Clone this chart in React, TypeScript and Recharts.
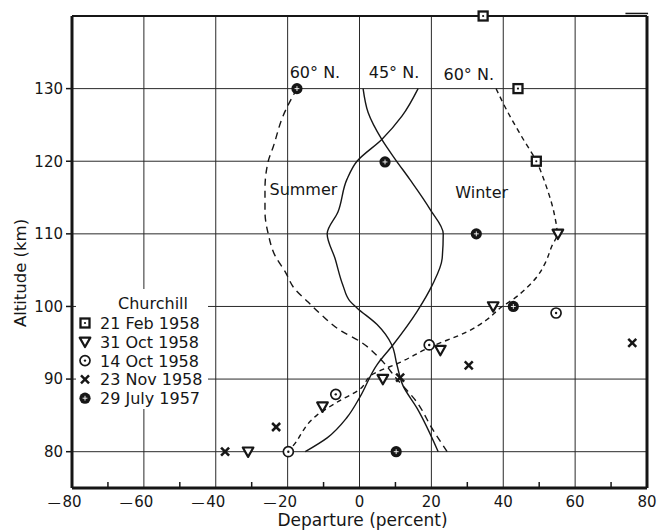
import React from "react";
import { ScatterChart, Scatter, XAxis, YAxis, ReferenceLine, ReferenceDot } from "recharts";

const INK = "#161616";
const FONT = '"DejaVu Sans", sans-serif';

// model profiles, [departure %, altitude km], top to bottom
const summer45 = [
  [16.3, 130], [11.8, 126.2], [6.2, 123], [-0.7, 120], [-3.5, 117.5], [-6, 113], [-9, 110],
  [-6.8, 106.6], [-4.6, 102.9], [-2.6, 100.7], [-0.7, 99.8], [4.9, 97.5], [9, 94.7],
  [10.4, 92], [12.1, 89.1], [16, 86], [21.9, 80],
];
const winter45 = [
  [1, 130], [2.4, 126.7], [6.2, 123], [9.9, 120.3], [14, 117.5], [19.6, 113.4], [23.3, 110],
  [23, 106.6], [20.2, 102.9], [16, 99.3], [9.3, 94.7], [4.9, 92], [0.1, 87.5], [-3.5, 84.7],
  [-9, 81.9], [-15.1, 80],
];
const summer60 = [
  [-17.4, 130], [-21.3, 126.2], [-24, 122], [-25.4, 120], [-26.3, 116.2], [-26.3, 113],
  [-25.4, 110], [-23.5, 107], [-20.7, 104.8], [-18, 102.4], [-14.3, 100.6], [-10.5, 98.8],
  [-5, 96.6], [0.1, 95.2], [5.7, 92.8], [10.4, 90], [16, 86.8], [20.2, 83.2], [24.4, 80],
];
const winter60 = [
  [38, 130], [41, 127], [45, 123.5], [49.2, 120], [52, 116.5], [54.3, 112.5], [55, 110],
  [53.5, 108.3], [51.7, 106], [49.4, 104.1], [46.6, 102.6], [42.8, 101], [39.7, 100],
  [35.5, 98.2], [29.9, 96.5], [19.6, 94.4], [11.3, 92.3], [3.8, 90.7], [0.1, 88.6],
  [-6.3, 86.8], [-11.9, 85], [-18.5, 80.8], [-19.9, 80],
];

// Churchill rocket soundings
const feb1958 = [[34.4, 140], [44.1, 130], [49.2, 120]];
const oct31 = [[55.2, 110], [37.2, 100], [22.5, 94], [6.5, 90], [-10.3, 86.2], [-31, 80]];
const oct14 = [[54.7, 99.1], [19.4, 94.7], [-6.6, 87.9], [-19.8, 80]];
const nov23 = [[75.9, 95], [30.4, 91.9], [11.3, 90.2], [-23.2, 83.4], [-37.4, 80]];
const jul1957 = [[-17.4, 130], [7.1, 119.9], [32.5, 110], [42.8, 100], [10.2, 80]];

const xTicks = [-80, -70, -60, -50, -40, -30, -20, -10, 0, 10, 20, 30, 40, 50, 60, 70, 80];
const yTicks = [80, 90, 100, 110, 120, 130];
const xGrid = [-60, -40, -20, 0, 20, 40, 60];
const yGrid = [80, 90, 100, 110, 120, 130];

const pts = (rows: number[][]) => rows.map(([x, y]) => ({ x, y }));

const SquareDot = ({ cx, cy }: any) => (
  <g>
    <rect x={cx - 4.5} y={cy - 4.5} width={9} height={9} fill="#fff" stroke={INK} strokeWidth={2.3} />
    <circle cx={cx} cy={cy} r={1.1} fill={INK} />
  </g>
);
const TriangleDown = ({ cx, cy }: any) => (
  <polygon
    points={`${cx - 5.3},${cy - 4.2} ${cx + 5.3},${cy - 4.2} ${cx},${cy + 5.2}`}
    fill="#fff"
    stroke={INK}
    strokeWidth={2.2}
    strokeLinejoin="round"
  />
);
const CircleDot = ({ cx, cy }: any) => (
  <g>
    <circle cx={cx} cy={cy} r={5} fill="#fff" stroke={INK} strokeWidth={1.7} />
    <circle cx={cx} cy={cy} r={1.2} fill={INK} />
  </g>
);
const Cross = ({ cx, cy }: any) => (
  <g stroke={INK} strokeWidth={2.5}>
    <line x1={cx - 4} y1={cy - 4} x2={cx + 4} y2={cy + 4} />
    <line x1={cx - 4} y1={cy + 4} x2={cx + 4} y2={cy - 4} />
  </g>
);
const FilledCross = ({ cx, cy }: any) => (
  <g>
    <circle cx={cx} cy={cy} r={5.6} fill={INK} />
    <g stroke="#fff" strokeWidth={0.9}>
      <line x1={cx - 2.4} y1={cy} x2={cx + 2.4} y2={cy} />
      <line x1={cx} y1={cy - 2.4} x2={cx} y2={cy + 2.4} />
    </g>
  </g>
);
const NoMark = () => <g />;

const soundings = [
  { name: "21 Feb 1958", data: feb1958, Mark: SquareDot },
  { name: "31 Oct 1958", data: oct31, Mark: TriangleDown },
  { name: "14 Oct 1958", data: oct14, Mark: CircleDot },
  { name: "23 Nov 1958", data: nov23, Mark: Cross },
  { name: "29 July 1957", data: jul1957, Mark: FilledCross },
];

const profiles = [
  { key: "s45", data: summer45, dash: undefined },
  { key: "w45", data: winter45, dash: undefined },
  { key: "s60", data: summer60, dash: "7 5" },
  { key: "w60", data: winter60, dash: "5 4" },
];

const notes = [
  { text: "60° N.", x: -12.4, y: 132.3 },
  { text: "45° N.", x: 9.6, y: 132.2 },
  { text: "60° N.", x: 30.4, y: 131.9 },
  { text: "Summer", x: -15.6, y: 116.1 },
  { text: "Winter", x: 34, y: 115.7 },
];

function DepartureTick(props: any) {
  const { x, y, payload } = props;
  const v = payload.value as number;
  if (v % 20 !== 0) {
    return <line x1={x} x2={x} y1={y} y2={y - 6} stroke={INK} strokeWidth={1.5} />;
  }
  const digits = String(Math.abs(v));
  const half = digits.length * 4.6;
  return (
    <g fill={INK} fontFamily={FONT}>
      <text x={x} y={y + 19} textAnchor="middle" fontSize={15}>
        {digits}
      </text>
      {v < 0 && (
        <text x={x - half - 2} y={y + 19} textAnchor="end" fontSize={13}>
          —
        </text>
      )}
    </g>
  );
}

function ChurchillKey() {
  return (
    <svg
      width={132}
      height={120}
      style={{ position: "absolute", left: 76, top: 289, background: "#fff" }}
      fontFamily={FONT}
      fill={INK}
    >
      <text x={77} y={20} textAnchor="middle" fontSize={16}>
        Churchill
      </text>
      {soundings.map((s, i) => {
        const cy = 34 + i * 18.8;
        return (
          <g key={s.name}>
            <s.Mark cx={9} cy={cy} />
            <text x={24} y={cy + 6} fontSize={16}>
              {s.name}
            </text>
          </g>
        );
      })}
    </svg>
  );
}

export default function App() {
  return (
    <div style={{ position: "absolute", left: 0, top: 0, width: 672, height: 530, background: "#fff" }}>
      <ScatterChart width={672} height={530} margin={{ top: 16, right: 25, bottom: 0, left: 0 }}>
        <XAxis
          type="number"
          dataKey="x"
          domain={[-80, 80]}
          ticks={xTicks}
          interval={0}
          height={42}
          tickSize={0}
          tickMargin={0}
          tickLine={false}
          axisLine={{ stroke: INK, strokeWidth: 3 }}
          tick={<DepartureTick />}
          label={{ value: "Departure (percent)", position: "insideBottom", offset: 4, dx: 3, fill: INK, fontSize: 17, fontFamily: FONT }}
        />
        <YAxis
          type="number"
          dataKey="y"
          domain={[75, 140]}
          ticks={yTicks}
          interval={0}
          width={72}
          tickSize={6}
          tickMargin={3}
          tickLine={{ stroke: INK, strokeWidth: 1.5 }}
          axisLine={{ stroke: INK, strokeWidth: 3 }}
          tick={{ fill: INK, fontSize: 15, fontFamily: FONT }}
          label={{ value: "Altitude (km)", angle: -90, position: "center", dx: -16, dy: 21, fill: INK, fontSize: 16.5, fontFamily: FONT }}
        />
        {xGrid.map((v) => (
          <ReferenceLine key={`gx${v}`} x={v} stroke="#2a2a2a" strokeWidth={1} />
        ))}
        {yGrid.map((v) => (
          <ReferenceLine key={`gy${v}`} y={v} stroke="#2a2a2a" strokeWidth={1} />
        ))}
        <ReferenceLine x={80} stroke={INK} strokeWidth={3} />
        <ReferenceLine y={140} stroke={INK} strokeWidth={2} />
        <ReferenceLine
          segment={[{ x: 74, y: 140.35 }, { x: 80.3, y: 140.35 }]}
          ifOverflow="visible"
          stroke={INK}
          strokeWidth={1.5}
        />
        {profiles.map((p) => (
          <Scatter
            key={p.key}
            data={pts(p.data)}
            line={{ stroke: INK, strokeWidth: 1.4, strokeDasharray: p.dash, fill: "none" }}
            lineJointType="monotoneY"
            shape={NoMark}
            isAnimationActive={false}
          />
        ))}
        {soundings.map((s) => (
          <Scatter key={s.name} name={s.name} data={pts(s.data)} shape={s.Mark} isAnimationActive={false} />
        ))}
        {notes.map((n, i) => (
          <ReferenceDot
            key={`n${i}`}
            x={n.x}
            y={n.y}
            r={0}
            fill="none"
            stroke="none"
            label={{ value: n.text, position: "center", fill: INK, fontSize: 16, fontFamily: FONT }}
          />
        ))}
      </ScatterChart>
      <ChurchillKey />
    </div>
  );
}
